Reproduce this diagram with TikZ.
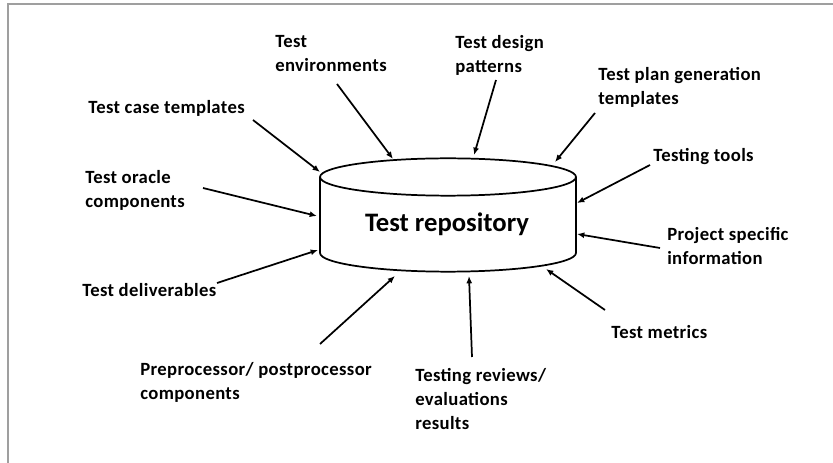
\documentclass[tikz,border=0pt]{standalone}
\usepackage{fontspec}
\setmainfont{Carlito}
\newfontfamily\labelfont[LetterSpace=2]{Carlito}
\usetikzlibrary{arrows.meta}
\begin{document}
\begin{tikzpicture}[x=0.75pt,y=-0.75pt,
  lbl/.style={anchor=north west,inner sep=0pt,align=left,
    font=\labelfont\fontsize{14pt}{18pt}\selectfont\bfseries},
  arr/.style={line width=1.3pt,-{Latex[length=5.5pt,width=4.5pt]}},
  body/.style={line width=1.3pt}]
\useasboundingbox (0,0) rectangle (833,463);
% frame
\draw[gray!75,line width=1.4pt] (8,463) -- (8,4) -- (833,4);

% repository cylinder
\draw[body] (448,177) ellipse [x radius=96pt, y radius=14pt];
\draw[body] (320,177) -- (320,253)
  arc[start angle=180, end angle=360, x radius=96pt, y radius=14pt] -- (576,177);
\node[anchor=base,inner sep=0pt,font=\fontsize{20pt}{24pt}\selectfont\bfseries]
  (repo) at (447,232) {Test repository};

% labels
\node[lbl] (l1) at (88,100) {Test case templates};
\node[lbl] (l2) at (275,35) {Test\\environments};
\node[lbl] (l3) at (455,35) {Test design\\patterns};
\node[lbl] (l4) at (598,67) {Test plan generation\\templates};
\node[lbl] (l5) at (653,148) {Testing tools};
\node[lbl] (l6) at (667,227) {Project specific\\information};
\node[lbl] (l7) at (611,325) {Test metrics};
\node[lbl] (l8) at (415,368) {Testing reviews/\\evaluations\\results};
\node[lbl] (l9) at (140,362) {Preprocessor/ postprocessor\\components};
\node[lbl] (l10) at (82,283) {Test deliverables};
\node[lbl] (l11) at (85,170) {Test oracle\\components};

% arrow ends
\coordinate (t1) at (253,120);  \coordinate (h1) at (320,172);
\coordinate (t2) at (337,84);   \coordinate (h2) at (393,159);
\coordinate (t3) at (496,80);   \coordinate (h3) at (474,155);
\coordinate (t4) at (595,113);  \coordinate (h4) at (555,162);
\coordinate (t5) at (650,165);  \coordinate (h5) at (577,203);
\coordinate (t6) at (660,248);  \coordinate (h6) at (577,234);
\coordinate (t7) at (605,310);  \coordinate (h7) at (546,269);
\coordinate (t8) at (472,357);  \coordinate (h8) at (469,276);
\coordinate (t9) at (320,344);  \coordinate (h9) at (395,276);
\coordinate (t10) at (217,283); \coordinate (h10) at (318,250);
\coordinate (t11) at (203,188); \coordinate (h11) at (317,216);

\foreach \i in {1,...,11} \draw[arr] (t\i) -- (h\i);
\end{tikzpicture}
\end{document}
